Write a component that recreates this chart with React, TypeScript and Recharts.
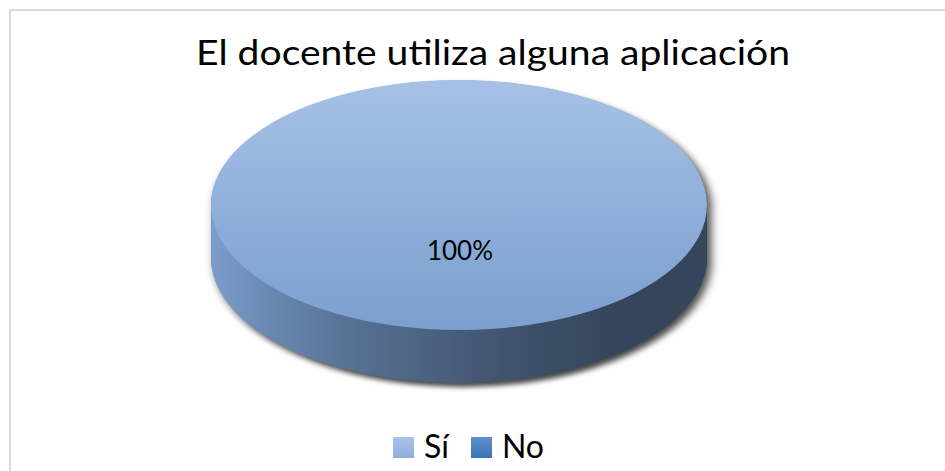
import React from 'react';
import { PieChart, Pie, Cell, Legend } from 'recharts';

// ---- data ----
const categories: string[] = ['Sí', 'No'];
const values: number[] = [100, 0];
const chartTitle = 'El docente utiliza alguna aplicación';

// legend swatch colours (top/bottom of their soft gradient)
const legendTop: string[] = ['#a9c4e8', '#5e90cb'];
const legendBottom: string[] = ['#8eaedb', '#3c73b3'];

const data = categories.map((name, i) => ({ name, value: values[i] }));

// ---- geometry / style ----
const W = 945;
const H = 471;
const CX = 459;
const CY = 205;
const RX = 248;
const RY = 125;
const DEPTH = 53;
const K = RY / RX;
const CYU = CY / K;
const DEPTHU = DEPTH / K;
const HU = Math.ceil(CYU + DEPTHU + RX + 20);
const STEP = 2;
const layers: number[] = [];
for (let d = Math.round(DEPTHU); d > 0; d -= STEP) layers.push(d);

const FONT = 'Lato, "Open Sans", sans-serif';

const renderLabel = (p: any) => {
  if (!p || !p.value) return null;
  return (
    <text
      key={`lbl-${p.index}`}
      x={p.cx + 1}
      y={p.cy + 55}
      textAnchor="middle"
      fontFamily={FONT}
      fontSize={26}
      fill="#000"
    >
      {`${Math.round(p.percent * 100)}%`}
    </text>
  );
};

const renderLegend = (props: any) => {
  const payload = [...(props.payload || [])].sort(
    (a: any, b: any) => categories.indexOf(a.value) - categories.indexOf(b.value)
  );
  return (
    <div style={{ display: 'flex', alignItems: 'flex-start', fontFamily: FONT }}>
      {payload.map((entry: any) => {
        const ci = categories.indexOf(entry.value);
        return (
          <div key={`leg-${entry.value}`} style={{ display: 'flex', alignItems: 'flex-start', marginRight: 22 }}>
            <div
              style={{
                width: 21,
                height: 21,
                marginTop: 7,
                marginRight: 10,
                background: `linear-gradient(${legendTop[ci]}, ${legendBottom[ci]})`,
              }}
            />
            <span style={{ fontSize: 32, lineHeight: '31px', color: '#000' }}>{entry.value}</span>
          </div>
        );
      })}
    </div>
  );
};

export default function App() {
  return (
    <div
      style={{
        position: 'absolute',
        left: 0,
        top: 0,
        width: W,
        height: H,
        overflow: 'hidden',
        background: '#fff',
      }}
    >
      {/* chart frame */}
      <div
        style={{
          position: 'absolute',
          left: 9,
          top: 9,
          width: 1000,
          height: 600,
          borderLeft: '2px solid #d9d9d9',
          borderTop: '2px solid #d9d9d9',
        }}
      />
      {/* 3D pie body (flattened by vertical scale) */}
      <div
        style={{
          position: 'absolute',
          left: 0,
          top: 0,
          width: W,
          height: HU,
          transform: `scaleY(${K})`,
          transformOrigin: '0 0',
          filter: 'drop-shadow(4px 8px 5px rgba(0,0,0,0.72))',
        }}
      >
        <PieChart width={W} height={HU} margin={{ top: 0, right: 0, bottom: 0, left: 0 }}>
          <defs>
            <linearGradient id="sideGrad" gradientUnits="userSpaceOnUse" x1={CX - RX} y1={0} x2={CX + RX} y2={0}>
              <stop offset="0" stopColor="#7d9dcb" />
              <stop offset="0.1" stopColor="#6d8bb5" />
              <stop offset="0.25" stopColor="#5a7597" />
              <stop offset="0.46" stopColor="#4a5f7e" />
              <stop offset="0.68" stopColor="#3b4d65" />
              <stop offset="0.85" stopColor="#34445a" />
              <stop offset="1" stopColor="#36475d" />
            </linearGradient>
            <linearGradient id="topGrad" x1="0" y1="0" x2="0" y2="1">
              <stop offset="0" stopColor="#a6c1e6" />
              <stop offset="1" stopColor="#7b9fcf" />
            </linearGradient>
          </defs>
          {layers.map((d) => (
            <Pie
              key={`side-${d}`}
              data={data}
              dataKey="value"
              nameKey="name"
              cx={CX}
              cy={CYU + d}
              outerRadius={RX}
              startAngle={90}
              endAngle={-270}
              stroke="none"
              legendType="none"
              isAnimationActive={false}
            >
              {data.map((_, i) => (
                <Cell key={`sc-${i}`} fill="url(#sideGrad)" stroke="none" />
              ))}
            </Pie>
          ))}
          <Pie
            data={data}
            dataKey="value"
            nameKey="name"
            cx={CX}
            cy={CYU}
            outerRadius={RX}
            startAngle={90}
            endAngle={-270}
            stroke="none"
            legendType="none"
            isAnimationActive={false}
          >
            {data.map((_, i) => (
              <Cell key={`tc-${i}`} fill="url(#topGrad)" stroke="none" />
            ))}
          </Pie>
        </PieChart>
      </div>
      {/* overlay: title, label, legend */}
      <div style={{ position: 'absolute', left: 0, top: 0 }}>
        <PieChart width={W} height={H} margin={{ top: 0, right: 0, bottom: 0, left: 0 }}>
          <text
            x={493}
            y={65}
            textAnchor="middle"
            fontFamily={FONT}
            fontSize={35}
            fill="#000"
            textLength={594}
            lengthAdjust="spacingAndGlyphs"
          >
            {chartTitle}
          </text>
          <Pie
            data={data}
            dataKey="value"
            nameKey="name"
            cx={CX}
            cy={CY}
            outerRadius={RX}
            startAngle={90}
            endAngle={-270}
            stroke="none"
            fill="transparent"
            label={renderLabel}
            labelLine={false}
            isAnimationActive={false}
          >
            {data.map((_, i) => (
              <Cell key={`oc-${i}`} fill={legendTop[i]} fillOpacity={0} stroke="none" />
            ))}
          </Pie>
          <Legend
            content={renderLegend}
            itemSorter={null as any}
            wrapperStyle={{ position: 'absolute', left: 393, top: 430, width: 'auto', height: 'auto' }}
          />
        </PieChart>
      </div>
    </div>
  );
}
